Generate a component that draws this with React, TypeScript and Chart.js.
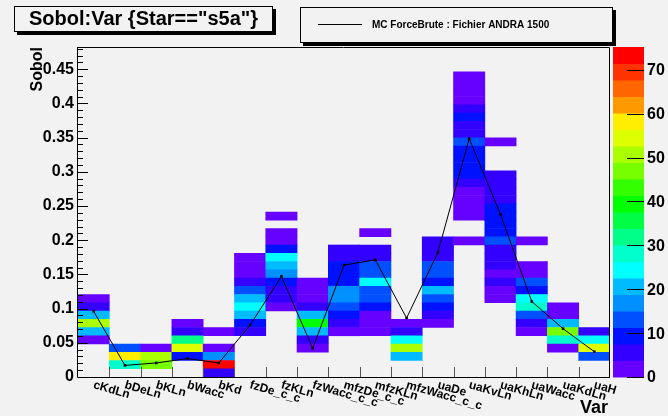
import React, { useEffect, useRef } from 'react';
import { Chart, registerables } from 'chart.js';

Chart.register(...registerables);

// ---- data ----
const categories = [
  'cKdLn', 'bDeLn', 'bKLn', 'bWacc', 'bKd', 'fzDe_c_c', 'fzKLn', 'fzWacc_c_c',
  'mfzDe_c_c', 'mfzKLn', 'mfzWacc_c_c', 'uaDe', 'uaKvLn', 'uaKhLn', 'uaWacc', 'uaKdLn', 'uaH',
];

// MC ForceBrute : Fichier ANDRA 1500 (one value per category)
const forceBrute = [
  0.096, 0.017, 0.0205, 0.027, 0.0205, 0.076, 0.147, 0.042, 0.1636, 0.1713,
  0.0862, 0.182, 0.3485, 0.238, 0.1104, 0.0706, 0.037,
];

// counts per Sobol bin (index = y bin from 0), one array per category
const cKdLn = [0, 0, 0, 0, 2, 20, 50, 20, 5, 2];
const bDeLn = [0, 28, 58, 13];
const bKLn = [0, 47, 50, 2];
const bWacc = [0, 0, 10, 54, 31, 5, 1];
const bKd = [5, 73, 17, 2, 0, 1];
const fzDe_c_c = [0, 0, 0, 0, 0, 5, 9, 19, 24, 20, 13, 6, 3, 2, 2];
const fzKLn = [0, 0, 0, 0, 0, 0, 0, 0, 3, 5, 6, 10, 16, 20, 24, 9, 3, 2, 0, 1];
const fzWacc_c_c = [0, 0, 0, 3, 5, 19, 39, 20, 5, 3, 2, 2];
const mfzDe_c_c = [0, 0, 0, 0, 0, 2, 5, 8, 13, 16, 16, 10, 10, 9, 7, 6];
const mfzKLn = [0, 0, 0, 0, 0, 1, 2, 3, 8, 12, 13, 24, 13, 12, 6, 5, 0, 1];
const mfzWacc_c_c = [0, 0, 19, 50, 24, 5, 2];
const uaDe = [0, 0, 0, 0, 0, 0, 2, 4, 9, 13, 20, 10, 13, 12, 6, 6, 5];
const uaKvLn = [
  0, 0, 0, 0, 0, 0, 0, 0, 0, 0, 0, 0, 0, 0, 0, 0, 1, 0, 0, 1,
  2, 2, 3, 5, 10, 9, 10, 9, 12, 6, 6, 8, 5, 3, 2, 2, 1,
];
const uaKhLn = [
  0, 0, 0, 0, 0, 0, 0, 0, 0, 2, 3, 4, 3, 5, 6, 6, 12, 8, 9, 9,
  8, 5, 6, 5, 5, 0, 0, 0, 1,
];
const uaWacc = [0, 0, 0, 0, 0, 2, 5, 12, 28, 25, 10, 13, 3, 2, 0, 0, 1];
const uaKdLn = [0, 0, 0, 2, 28, 46, 20, 3, 2];
const uaH = [0, 0, 14, 55, 25, 5];

const cellCounts = [
  cKdLn, bDeLn, bKLn, bWacc, bKd, fzDe_c_c, fzKLn, fzWacc_c_c,
  mfzDe_c_c, mfzKLn, mfzWacc_c_c, uaDe, uaKvLn, uaKhLn, uaWacc, uaKdLn, uaH,
];

const zTicks = [0, 10, 20, 30, 40, 50, 60, 70];

const Y_MAX = 0.4825;
const Y_BINS = 40;
const Z_MAX = 75.2;
const N_LEVELS = 20;

const palette = [
  '#6600ff', '#3300ff', '#0011ff', '#0050ff', '#0090ff', '#00bbff', '#00ffff', '#00ffcc',
  '#00ff88', '#00ff44', '#00ff00', '#33ff00', '#77ff00', '#aaff00', '#ddff00', '#ffee00',
  '#ff9900', '#ff6600', '#ff3300', '#ff0000',
];

const FONT = 'Liberation Sans, Arial, Helvetica, sans-serif';
const BG = '#f2f2f2';

function colorFor(count: number) {
  const idx = Math.min(N_LEVELS - 1, Math.floor(count / (Z_MAX / N_LEVELS)));
  return palette[idx];
}

function buildDatasets() {
  const h = Y_MAX / Y_BINS;
  const sets: any[] = [];
  for (let b = 0; b < Y_BINS; b++) {
    const data = categories.map((_, c) => {
      const v = cellCounts[c][b] || 0;
      return v > 0 ? [b * h, (b + 1) * h] : null;
    });
    if (data.every((d) => d === null)) continue;
    sets.push({
      type: 'bar',
      label: 'bin' + b,
      data,
      backgroundColor: categories.map((_, c) => colorFor(cellCounts[c][b] || 0)),
      borderWidth: 0,
      barPercentage: 1,
      categoryPercentage: 1,
      grouped: false,
      order: 2,
    });
  }
  sets.push({
    type: 'line',
    label: 'MC ForceBrute : Fichier ANDRA 1500',
    data: forceBrute,
    borderColor: '#000',
    borderWidth: 1,
    pointStyle: 'rect',
    pointRadius: 1.8,
    pointBackgroundColor: '#000',
    pointBorderWidth: 0,
    tension: 0,
    order: 0,
  });
  return sets;
}

const decorPlugin = {
  id: 'rootDecor',
  beforeDraw(chart: any) {
    const ctx = chart.ctx;
    ctx.save();
    ctx.fillStyle = BG;
    ctx.fillRect(0, 0, chart.width, chart.height);
    ctx.restore();
  },
  afterDraw(chart: any) {
    const ctx = chart.ctx;
    const area = chart.chartArea;
    const xs = chart.scales.x;
    const ys = chart.scales.y;
    const zs = chart.scales.z;
    ctx.save();

    // frame
    ctx.strokeStyle = '#000';
    ctx.lineWidth = 1;
    ctx.beginPath();
    ctx.moveTo(area.left - 0.5, area.top + 0.5);
    ctx.lineTo(area.right - 0.5, area.top + 0.5);
    ctx.lineTo(area.right - 0.5, area.bottom + 0.5);
    ctx.stroke();
    ctx.beginPath();
    ctx.moveTo(area.left - 0.5, area.top);
    ctx.lineTo(area.left - 0.5, area.bottom + 0.5);
    ctx.lineTo(area.right, area.bottom + 0.5);
    ctx.stroke();

    // y ticks inside
    for (let i = 0; i * 0.01 <= Y_MAX + 1e-9; i++) {
      const y = Math.round(ys.getPixelForValue(i * 0.01)) + 0.5;
      const len = i % 5 === 0 ? 10 : 5;
      ctx.beginPath();
      ctx.moveTo(area.left, y);
      ctx.lineTo(area.left + len, y);
      ctx.stroke();
    }

    // x ticks at bin boundaries
    const w = xs.getPixelForValue(1) - xs.getPixelForValue(0);
    ctx.strokeStyle = '#555';
    for (let i = 1; i < categories.length; i++) {
      const x = Math.round(xs.getPixelForValue(i) - w / 2) + 0.5;
      ctx.beginPath();
      ctx.moveTo(x, area.bottom);
      ctx.lineTo(x, area.bottom - 10);
      ctx.stroke();
    }

    // x labels (rotated)
    ctx.fillStyle = '#000';
    ctx.font = `bold 12px ${FONT}`;
    ctx.textAlign = 'left';
    ctx.textBaseline = 'alphabetic';
    categories.forEach((lab, i) => {
      const cx = xs.getPixelForValue(i);
      ctx.save();
      ctx.translate(cx - 1, area.bottom + 11);
      ctx.rotate((16 * Math.PI) / 180);
      ctx.fillText(lab, 0, 0);
      ctx.restore();
    });

    // axis titles
    ctx.font = `bold 18px ${FONT}`;
    ctx.textAlign = 'right';
    ctx.fillText('Var', area.right - 2, 413);
    ctx.save();
    ctx.font = `bold 16px ${FONT}`;
    ctx.translate(42, area.top);
    ctx.rotate(-Math.PI / 2);
    ctx.textAlign = 'right';
    ctx.fillText('Sobol', 0, 0);
    ctx.restore();

    // colour bar
    const barL = 613;
    const barR = 644;
    for (let k = 0; k < N_LEVELS; k++) {
      const y0 = zs.getPixelForValue((k * Z_MAX) / N_LEVELS);
      const y1 = zs.getPixelForValue(((k + 1) * Z_MAX) / N_LEVELS);
      ctx.fillStyle = palette[k];
      ctx.fillRect(barL, y1, barR - barL, y0 - y1 + 0.5);
    }
    ctx.strokeStyle = '#000';
    ctx.fillStyle = '#000';
    ctx.font = `bold 16px ${FONT}`;
    ctx.textAlign = 'left';
    ctx.textBaseline = 'middle';
    zTicks.forEach((v) => {
      const yp = zs.getPixelForValue(v);
      const y = Math.round(yp) + 0.5;
      ctx.beginPath();
      ctx.moveTo(627, y);
      ctx.lineTo(barR, y);
      ctx.stroke();
      ctx.fillText(String(v), 647, yp + 1);
    });

    // title box
    const drawBox = (x: number, y: number, bw: number, bh: number) => {
      ctx.fillStyle = '#000';
      ctx.fillRect(x + 3, y + 3, bw, bh);
      ctx.fillStyle = BG;
      ctx.fillRect(x, y, bw, bh);
      ctx.strokeStyle = '#000';
      ctx.lineWidth = 1;
      ctx.strokeRect(x + 0.5, y + 0.5, bw - 1, bh - 1);
    };
    drawBox(14, 6, 259, 26);
    ctx.fillStyle = '#000';
    ctx.font = `bold 20px ${FONT}`;
    ctx.textAlign = 'center';
    ctx.textBaseline = 'middle';
    ctx.fillText('Sobol:Var {Star=="s5a"}', 143.5, 19.5);

    // legend box
    drawBox(300, 7, 313, 36);
    ctx.strokeStyle = '#000';
    ctx.beginPath();
    ctx.moveTo(318, 24.5);
    ctx.lineTo(362, 24.5);
    ctx.stroke();
    ctx.fillStyle = '#000';
    ctx.font = `bold 10px ${FONT}`;
    ctx.textAlign = 'left';
    ctx.textBaseline = 'middle';
    ctx.fillText('MC ForceBrute : Fichier ANDRA 1500', 372, 25);

    ctx.restore();
  },
};

export default function App() {
  const ref = useRef<HTMLCanvasElement>(null);
  useEffect(() => {
    document.body.style.margin = '0';
    const chart = new Chart(ref.current as HTMLCanvasElement, {
      type: 'bar',
      data: { labels: categories, datasets: buildDatasets() },
      options: {
        responsive: false,
        animation: false,
        devicePixelRatio: 1,
        layout: { padding: { top: 47, left: 0, right: 0, bottom: 0 } },
        plugins: { legend: { display: false }, tooltip: { enabled: false }, title: { display: false } },
        scales: {
          x: {
            type: 'category',
            offset: true,
            grid: { display: false, drawTicks: false },
            border: { display: false },
            ticks: { display: false },
            afterFit: (s: any) => { s.height = 39; },
          },
          y: {
            type: 'linear',
            position: 'left',
            min: 0,
            max: Y_MAX,
            grid: { display: false, drawTicks: false },
            border: { display: false },
            ticks: {
              stepSize: 0.05,
              includeBounds: false,
              padding: 4,
              color: '#000',
              font: { family: FONT, size: 16, weight: 'bold' },
              callback: (v: any) => String(+(+v).toFixed(2)),
            },
            afterFit: (s: any) => { s.width = 78; },
          },
          z: {
            type: 'linear',
            position: 'right',
            min: 0,
            max: Z_MAX,
            grid: { display: false, drawTicks: false },
            border: { display: false },
            ticks: { display: false, stepSize: 10 },
            afterFit: (s: any) => { s.width = 58; },
          },
        },
      } as any,
      plugins: [decorPlugin],
    } as any);
    return () => chart.destroy();
  }, []);
  return (
    <div style={{ position: 'fixed', left: 0, top: 0, width: 668, height: 416, background: BG }}>
      <canvas ref={ref} width={668} height={416} style={{ display: 'block' }} />
    </div>
  );
}
